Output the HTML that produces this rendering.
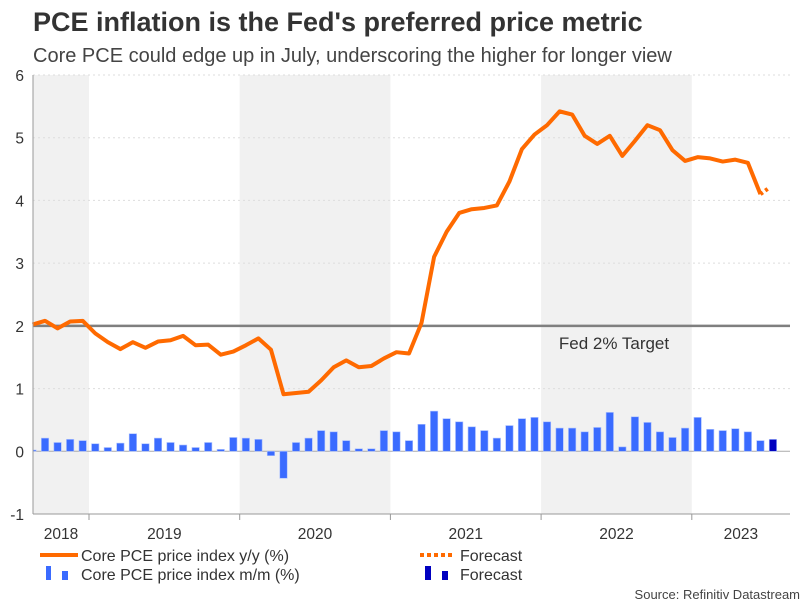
<!DOCTYPE html>
<html><head><meta charset="utf-8"><style>
body{margin:0;background:#fff;width:806px;height:605px;overflow:hidden;font-family:"Liberation Sans",Arial,sans-serif}
svg text{font-family:"Liberation Sans",Arial,sans-serif}
</style></head><body>
<svg id="chart" width="806" height="605" xmlns="http://www.w3.org/2000/svg">
<text x="33" y="31" font-size="27" font-weight="bold" fill="#333">PCE inflation is the Fed's preferred price metric</text>
<text x="33" y="62" font-size="20" fill="#444">Core PCE could edge up in July, underscoring the higher for longer view</text>
<g id="bands"></g><g id="grid"></g><g id="bars"></g><g id="lines"></g><g id="axes"></g>
<text x="614" y="349" font-size="17" fill="#333" text-anchor="middle">Fed 2% Target</text>
<g font-size="16" fill="#333">
<line x1="40" y1="555" x2="78" y2="555" stroke="#ff6a00" stroke-width="4"/>
<text x="81" y="561">Core PCE price index y/y (%)</text>
<line x1="420" y1="555" x2="455" y2="555" stroke="#ff6a00" stroke-width="4" stroke-dasharray="4,3"/>
<text x="460" y="561">Forecast</text>
<rect x="46" y="566" width="5" height="14" fill="#3a6bff"/>
<rect x="62" y="571" width="6" height="9" fill="#3a6bff"/>
<text x="81" y="580">Core PCE price index m/m (%)</text>
<rect x="425" y="566" width="6" height="14" fill="#0000c0"/>
<rect x="442" y="571" width="6" height="9" fill="#0000c0"/>
<text x="460" y="580">Forecast</text>
</g>
<text x="800" y="599" font-size="13" fill="#444" text-anchor="end">Source: Refinitiv Datastream</text>
</svg>
<script>
const years = ['2018','2019','2020','2021','2022','2023'];
const yTicks = [-1,0,1,2,3,4,5,6];
const yoy = [2.02,2.08,1.96,2.07,2.08,1.88,1.74,1.63,1.74,1.65,1.75,1.77,1.84,1.69,1.70,1.54,1.59,1.69,1.80,1.62,0.91,0.93,0.95,1.13,1.34,1.45,1.34,1.36,1.48,1.58,1.56,2.05,3.1,3.5,3.8,3.86,3.88,3.92,4.3,4.82,5.05,5.2,5.42,5.37,5.03,4.9,5.03,4.71,4.95,5.2,5.12,4.8,4.63,4.69,4.67,4.62,4.65,4.6,4.1];
const yoyForecast = [4.2];
const mom = [0.02,0.21,0.14,0.19,0.17,0.12,0.06,0.13,0.28,0.12,0.21,0.14,0.10,0.06,0.14,0.03,0.22,0.21,0.19,-0.07,-0.43,0.14,0.21,0.33,0.31,0.17,0.04,0.04,0.33,0.31,0.17,0.43,0.64,0.52,0.47,0.39,0.33,0.21,0.41,0.52,0.54,0.47,0.37,0.37,0.31,0.38,0.62,0.07,0.55,0.46,0.31,0.22,0.37,0.54,0.35,0.33,0.36,0.31,0.17];
const momForecast = [0.19];
const target = [2];

const NS='http://www.w3.org/2000/svg';
const L=33,R=790,T=75,B=514;
const x=i=>32.5+12.55*i;
const y=v=>T+(6-v)*(B-T)/7;
const yearStart=k=>89+150.7*(k-1);
function mk(tag,attrs,parent){const e=document.createElementNS(NS,tag);for(const k in attrs)e.setAttribute(k,attrs[k]);document.getElementById(parent).appendChild(e);return e;}

years.forEach((yr,k)=>{
  const x0=Math.max(L,yearStart(k)), x1=Math.min(R,yearStart(k+1));
  if(k%2===0){const b=mk('rect',{x:x0,y:T,width:x1-x0,height:B-T,fill:'#f1f1f1'},'bands');
  
  }
  const t=mk('text',{x:(x0+x1)/2,y:539,'font-size':15.5,fill:'#333','text-anchor':'middle'},'axes');
  t.textContent=yr;
  
  
  if(k>0){const tk=mk('line',{x1:yearStart(k),x2:yearStart(k),y1:B,y2:B+6,stroke:'#999'},'axes');
  
  }
});
yTicks.forEach(v=>{
  const g=mk('line',{x1:L,x2:R,y1:y(v),y2:y(v),stroke:v===0?'#aaa':'#ddd','stroke-dasharray':v===0?'':'2,3'},'grid');
  
  
  const t=mk('text',{x:24,y:y(v)+6,'font-size':15.5,fill:'#333','text-anchor':'end'},'axes');
  t.textContent=v;
  
  
});
const ax=mk('line',{x1:L,x2:R,y1:B,y2:B,stroke:'#999'},'axes');


const ay=mk('line',{x1:L,x2:L,y1:T,y2:B,stroke:'#999'},'axes');



function bar(i,v,col,name){
  const x0=Math.max(L,x(i)-3.7), x1=x(i)+3.7;
  const r=mk('rect',{x:x0,y:Math.min(y(v),y(0)),width:x1-x0,height:Math.abs(y(v)-y(0)),fill:col,stroke:'#a9bfff','stroke-width':0.6},'bars');
  
  
}
mom.forEach((v,i)=>bar(i,v,'#3a6bff','mom-bar'));
momForecast.forEach((v,j)=>bar(mom.length+j,v,'#0000c0','mom-forecast-bar'));

const tl=mk('line',{x1:L,x2:R,y1:y(target[0]),y2:y(target[0]),stroke:'#7f7f7f','stroke-width':2.5},'lines');



const p=mk('polyline',{points:yoy.map((v,i)=>x(i)+','+y(v)).join(' '),fill:'none',stroke:'#ff6a00','stroke-width':4,'stroke-linejoin':'round'},'lines');


const n=yoy.length-1;
const fpts=[x(n)+','+y(yoy[n])].concat(yoyForecast.map((v,j)=>(x(n+1+j)-4)+','+y(v)));
const f=mk('polyline',{points:fpts.join(' '),fill:'none',stroke:'#ff6a00','stroke-width':4,'stroke-dasharray':'3,3'},'lines');


</script>
</body></html>
